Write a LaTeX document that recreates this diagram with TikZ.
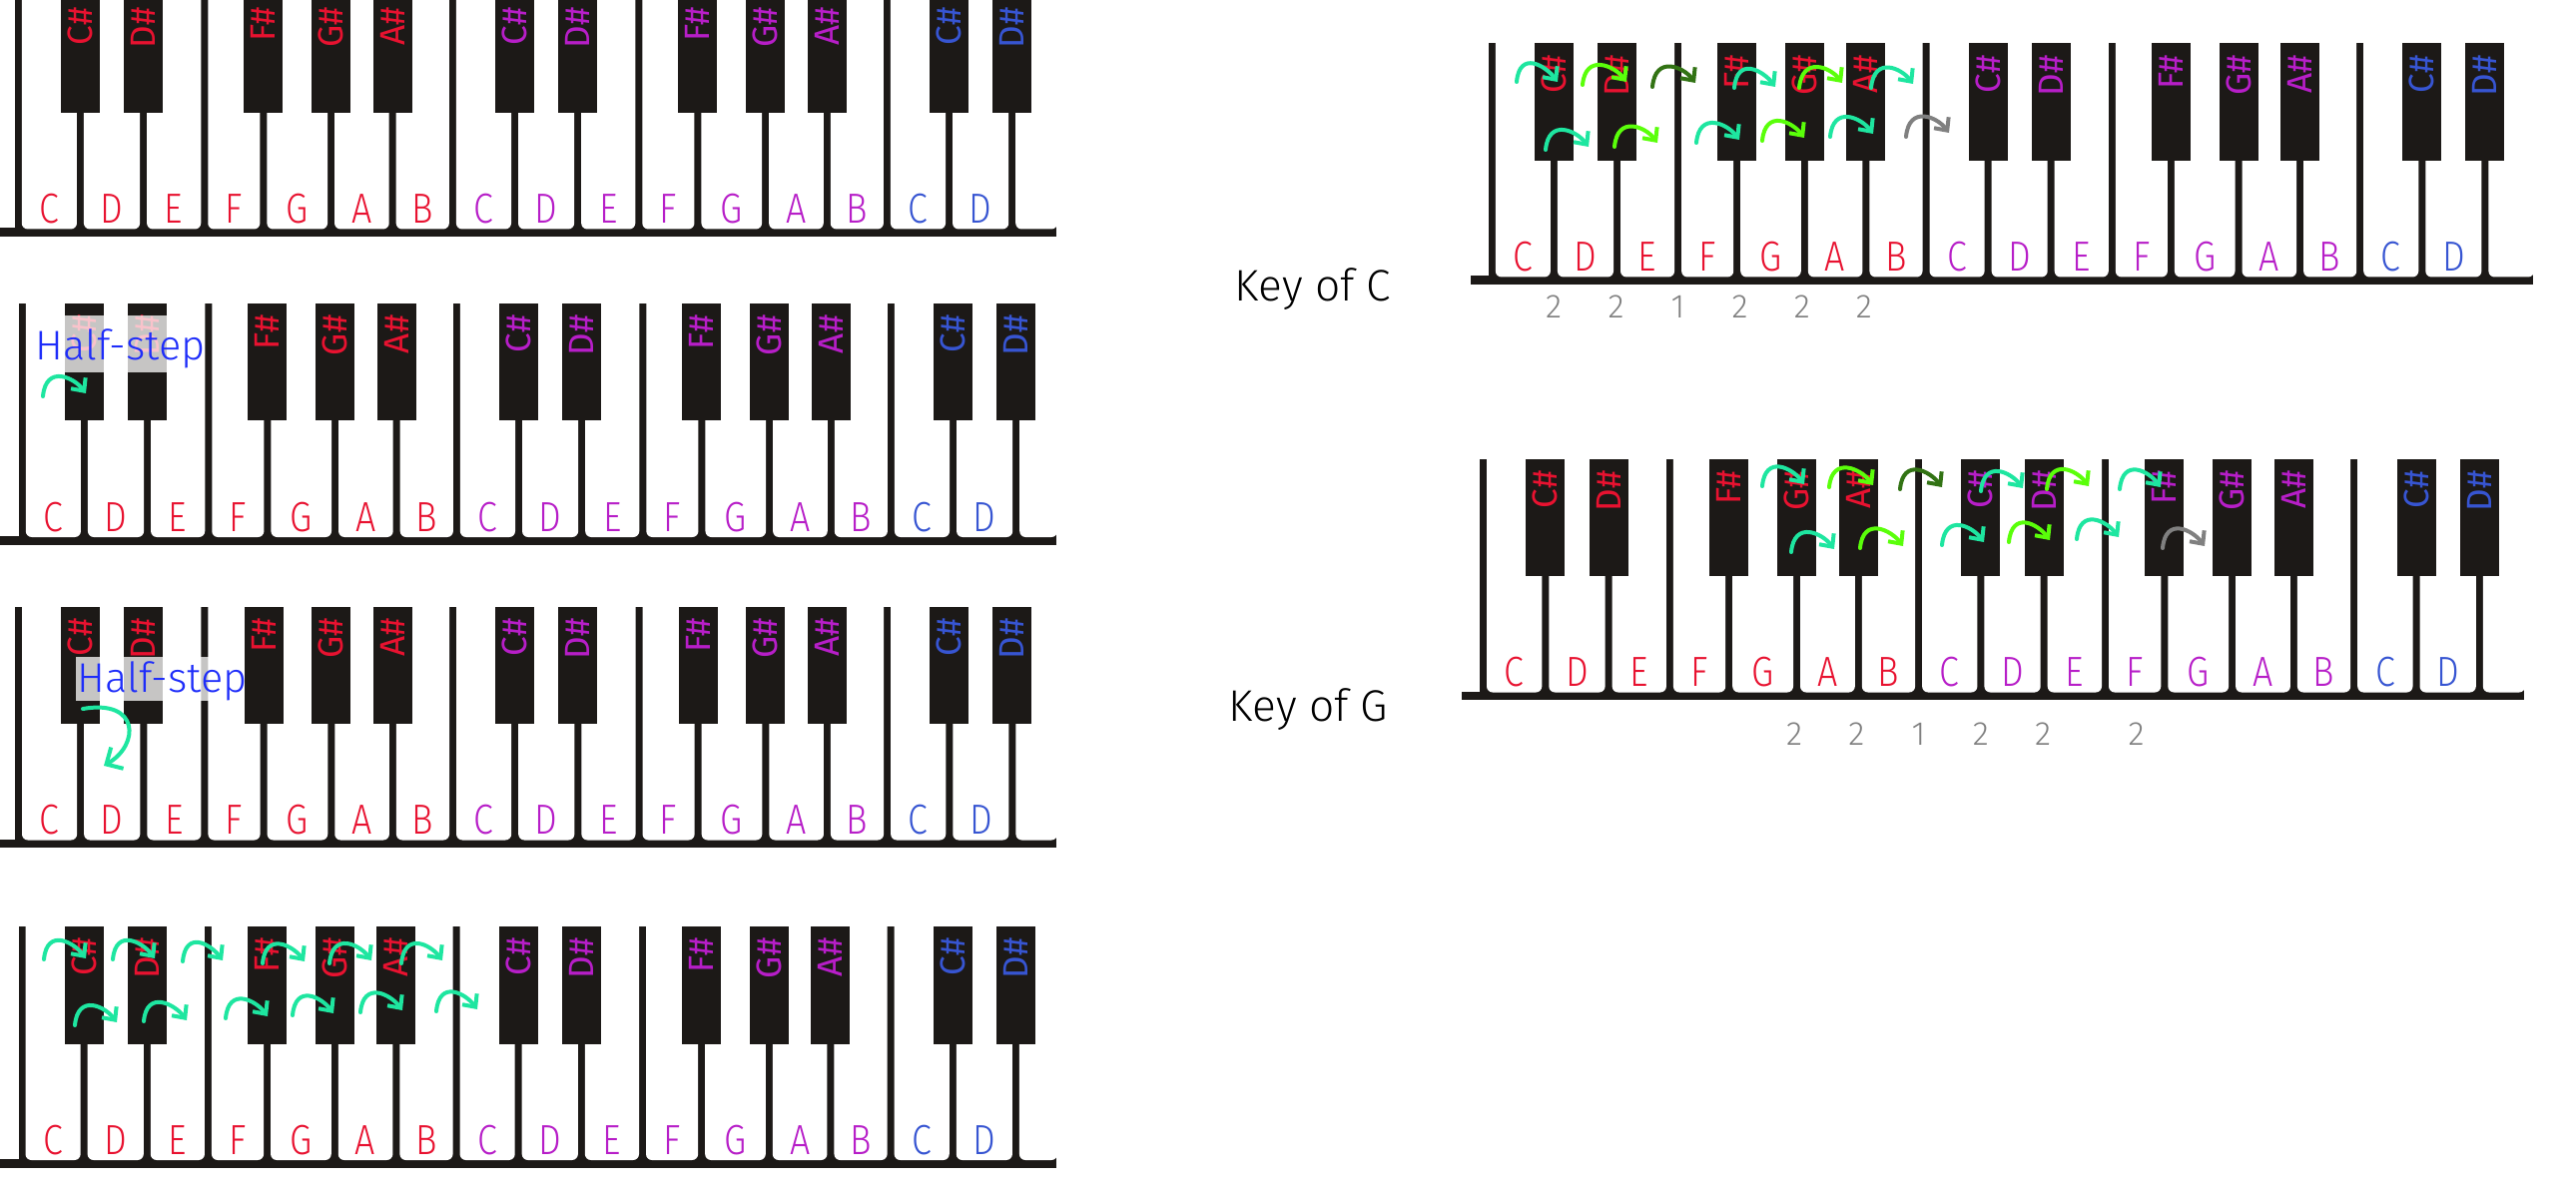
\documentclass[tikz,border=0pt]{standalone}
\usepackage{fontspec}
\setmainfont{Fira Sans Light}
\newfontfamily\notefont[FakeStretch=0.85]{Fira Sans Light}
\newfontfamily\sharpfont{Fira Sans}
\usetikzlibrary{arrows.meta}

\definecolor{keyblack}{RGB}{28,25,23}
\definecolor{nred}{RGB}{232,18,48}
\definecolor{nmag}{RGB}{183,30,200}
\definecolor{nblue}{RGB}{55,85,210}
\definecolor{hteal}{RGB}{30,230,160}
\definecolor{hlime}{RGB}{90,255,10}
\definecolor{hdark}{RGB}{50,115,20}
\definecolor{hgray}{RGB}{128,128,128}
\definecolor{hblue}{RGB}{30,45,250}

\tikzset{
  keyname/.style={font=\notefont\fontsize{12}{14}\selectfont, inner sep=0pt, anchor=base},
  sharpname/.style={font=\sharpfont\fontsize{10}{12}\selectfont, inner sep=0pt, rotate=90, anchor=base east},
  harc/.style={draw=#1, line width=0.4mm, line cap=round, line join=round,
    -{Straight Barb[length=2.8pt,width=5.2pt]}},
  steplabel/.style={font=\fontsize{11.8}{15}\selectfont, text=hblue, inner sep=0pt, anchor=base west},
  keyof/.style={font=\fontsize{12.6}{15}\selectfont, inner sep=0pt, anchor=base west},
  stepnum/.style={font=\fontsize{9.5}{12}\selectfont, text=hgray, inner sep=0pt, anchor=base}
}

\begin{document}
\begin{tikzpicture}[x=0.1mm,y=-0.1mm]
  \useasboundingbox (0,0) rectangle (2580,1200);

  % keyboards: left edge, top, bar start, bar end, key width
  \foreach \kx/\ky/\kl/\kr/\kw [count=\kb] in {18.3/-4.5/0/1058/62.15, 22.3/304/0/1058/62.15,
      18.5/607.5/0/1058/62.15, 22/928/0/1058/62.15, 1494.3/43.5/1473/2537/62.1, 1485.5/459.5/1464/2528/62.3}{
    \fill[keyblack] (\kx-3.5,\ky) rectangle (\kr,\ky+234);
    \fill[keyblack] (\kl,\ky+233) rectangle (\kr,\ky+241.5);
    \foreach \i/\oa/\ob/\nm/\col in {0/0/0/C/nred, 1/0/1/D/nred, 2/1/0/E/nred, 3/0/-3/F/nred,
        4/-3/2.5/G/nred, 5/2.5/2/A/nred, 6/2/0/B/nred, 7/0/0/C/nmag, 8/0/1/D/nmag, 9/1/0/E/nmag,
        10/0/-3/F/nmag, 11/-3/2.5/G/nmag, 12/2.5/2/A/nmag, 13/2/0/B/nmag, 14/0/0/C/nblue, 15/0/1/D/nblue}{
      \pgfmathsetmacro\xa{\kx+\i*\kw+\oa+3.5}
      \pgfmathsetmacro\xb{\kx+(\i+1)*\kw+\ob-3.5}
      \fill[white] (\xa,\ky-2) {[rounded corners=1.7pt] -- (\xa,\ky+234) -- (\xb,\ky+234)} -- (\xb,\ky-2) -- cycle;
      \node[keyname, text=\col] (w\kb-\i) at ({(\xa+\xb)/2},\ky+228) {\nm};
    }
    \pgfmathsetmacro\xa{\kx+16*\kw+1+3.5}
    \fill[white] (\xa,\ky-2) {[rounded corners=1.7pt] -- (\xa,\ky+234) -- (\kr+1,\ky+234)} -- (\kr+1,\ky-2) -- cycle;
    \foreach \j/\off/\nm/\col in {1/0/C/nred, 2/1/D/nred, 4/-3/F/nred, 5/2.5/G/nred, 6/2/A/nred,
        8/0/C/nmag, 9/1/D/nmag, 11/-3/F/nmag, 12/2.5/G/nmag, 13/2/A/nmag, 15/0/C/nblue, 16/1/D/nblue}{
      \pgfmathsetmacro\cx{\kx+\j*\kw+\off}
      \fill[keyblack] (\cx-19.5,\ky) rectangle (\cx+19.5,\ky+117.5);
      \node[sharpname, text=\col] (b\kb-\j) at (\cx+12,\ky+11) {\nm\#};
    }
  }

  % half-step notes
  \fill[white, opacity=0.75] (37,316) rectangle (203,373);
  \node[steplabel] (half2) at (35,360) {Half-step};
  \fill[white, opacity=0.75] (76,658) rectangle (245,702);
  \node[steplabel] (half3) at (77,693) {Half-step};
  \draw[harc=hteal, -{Straight Barb[length=3.6pt,width=7pt]}] (83,710) .. controls (140,700) and (140,746) .. (104,767);

  % step arrows
  \foreach \sx/\sy/\tx/\ty/\hc in {43/397/86/394/hteal,
      44/961/86/960/hteal, 113/961/155/960/hteal, 183/963/223/962/hteal, 263/965/305/963/hteal,
      330/965/372/962/hteal, 402/965/443/962/hteal,
      75/1027/117/1024/hteal, 144/1023/187/1022/hteal, 226/1020/268/1018/hteal, 293/1017/334/1015/hteal,
      361/1014/403/1012/hteal, 437/1013/478/1011/hteal,
      1519/82/1560/82/hteal, 1585/85/1629/82/hlime, 1655/87/1698/83/hdark, 1737/88/1778/87/hteal,
      1802/88/1845/83/hlime, 1874/88/1916/84/hteal,
      1548/150/1591/147/hteal, 1617/147/1660/143/hlime, 1699/143/1742/140/hteal, 1765/141/1807/138/hlime,
      1833/137/1876/134/hteal, 1909/137/1952/133/hgray,
      1765/487/1807/485/hteal, 1832/488/1876/486/hlime, 1903/490/1945/488/hdark, 1984/492/2026/489/hteal,
      2050/490/2092/487/hlime, 2123/490/2164/488/hteal,
      1794/553/1837/550/hteal, 1863/549/1906/547/hlime, 1945/546/1987/543/hteal, 2012/543/2053/541/hlime,
      2080/540/2122/538/hteal, 2166/549/2208/547/hgray}
    \draw[harc=\hc] (\sx,\sy) .. controls +(3,-32) and +(-12,-16) .. (\tx,\ty);

  % keys and steps
  \node[keyof] (keyc) at (1236,302) {Key of C};
  \node[keyof] (keyg) at (1230,722) {Key of G};
  \foreach \x/\n [count=\cn] in {1556/2, 1618.5/2, 1680.5/1, 1742.7/2, 1804.8/2, 1866.9/2}
    \node[stepnum] (nc\cn) at (\x,319) {\n};
  \foreach \x/\n [count=\cn] in {1797/2, 1859.3/2, 1921.6/1, 1983.9/2, 2046.2/2, 2139.7/2}
    \node[stepnum] (ng\cn) at (\x,746) {\n};
\end{tikzpicture}
\end{document}
